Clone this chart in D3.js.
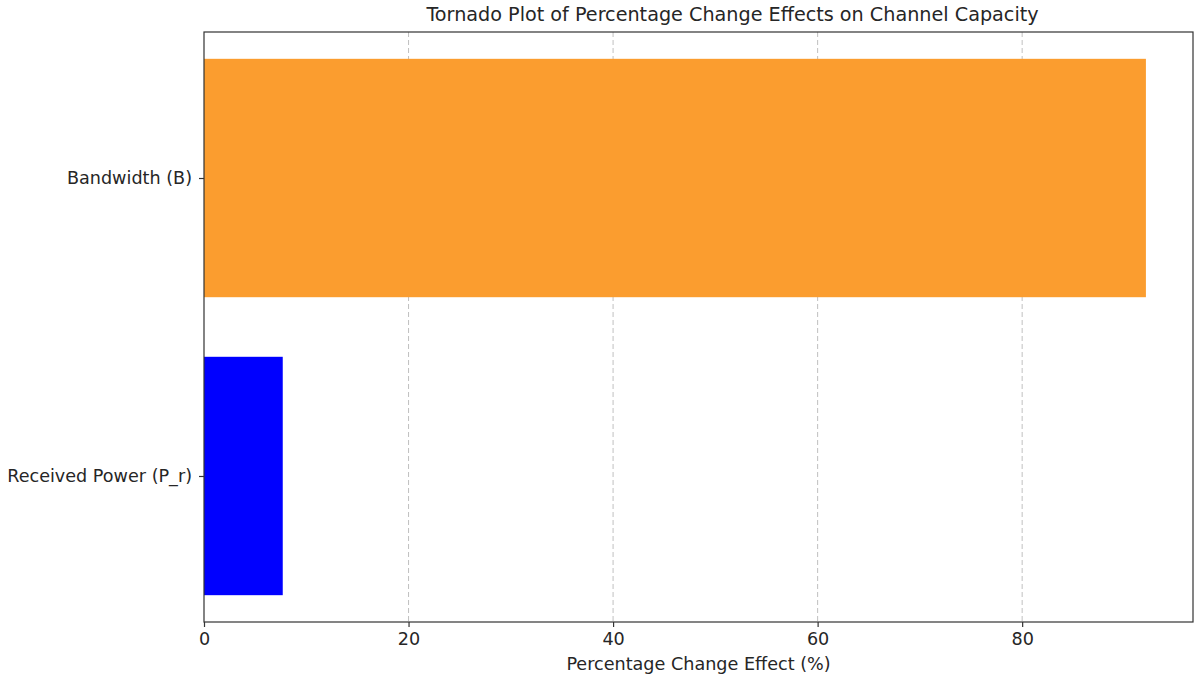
<!DOCTYPE html>
<html><head><meta charset="utf-8">
<script src="https://cdn.jsdelivr.net/npm/d3@7"></script>
<style>body{margin:0;background:#fff;} text{font-family:"DejaVu Sans",sans-serif;fill:#262626;}</style>
</head><body>
<svg id="c" width="1200" height="682"></svg>
<script>
const categories = ["Received Power (P_r)", "Bandwidth (B)"];
const values = [7.7, 92.1];
const colors = ["#0000ff", "#fb9d2f"];
const xTicks = [0, 20, 40, 60, 80];
const title = "Tornado Plot of Percentage Change Effects on Channel Capacity";
const xLabel = "Percentage Change Effect (%)";

const svg = d3.select("#c");
const L = 204, R = 1193, T = 32, B = 622;
const xmax = d3.max(values) * 1.05;
const x = d3.scaleLinear().domain([0, xmax]).range([L, R]);
const y = d3.scaleLinear().domain([-0.49, 1.49]).range([B, T]);

// grid
svg.append("g").selectAll("line").data(xTicks.filter(d => d > 0)).join("line")
  .attr("x1", d => x(d)).attr("x2", d => x(d)).attr("y1", T).attr("y2", B)
  .attr("stroke", "#b0b0b0").attr("stroke-opacity", 0.8).attr("stroke-width", 1)
  .attr("stroke-dasharray", "5,3");

// bars
svg.append("g").selectAll("rect").data(values).join("rect")
  .attr("x", x(0)).attr("width", d => x(d) - x(0))
  .attr("y", (d, i) => y(i + 0.4)).attr("height", (d, i) => y(i - 0.4) - y(i + 0.4))
  .attr("fill", (d, i) => colors[i]);

// frame
svg.append("rect").attr("x", L).attr("y", T).attr("width", R - L).attr("height", B - T)
  .attr("fill", "none").attr("stroke", "#333").attr("stroke-width", 1.2);

// x axis
const xa = d3.axisBottom(x).tickValues(xTicks).tickSize(5).tickPadding(6).tickFormat(d3.format("d"));
const gx = svg.append("g").attr("transform", `translate(0,${B})`).call(xa);
gx.select(".domain").remove();
gx.selectAll("line").attr("stroke", "#333").attr("stroke-width", 1.2);
gx.selectAll("text").attr("font-size", 17.6).attr("fill", "#262626").style("font-family", "DejaVu Sans");

// y axis
const ya = d3.axisLeft(y).tickValues([0, 1]).tickFormat(i => categories[i]).tickSize(5).tickPadding(7);
const gy = svg.append("g").attr("transform", `translate(${L},0)`).call(ya);
gy.select(".domain").remove();
gy.selectAll("line").attr("stroke", "#333").attr("stroke-width", 1.2);
gy.selectAll("text").attr("font-size", 17.6).attr("fill", "#262626").style("font-family", "DejaVu Sans");

svg.append("text").attr("x", (L + R) / 2 + 34).attr("y", 21).attr("text-anchor", "middle")
  .attr("font-size", 19.2).text(title);
svg.append("text").attr("x", (L + R) / 2).attr("y", 670).attr("text-anchor", "middle")
  .attr("font-size", 17.6).text(xLabel);
</script>
</body></html>
